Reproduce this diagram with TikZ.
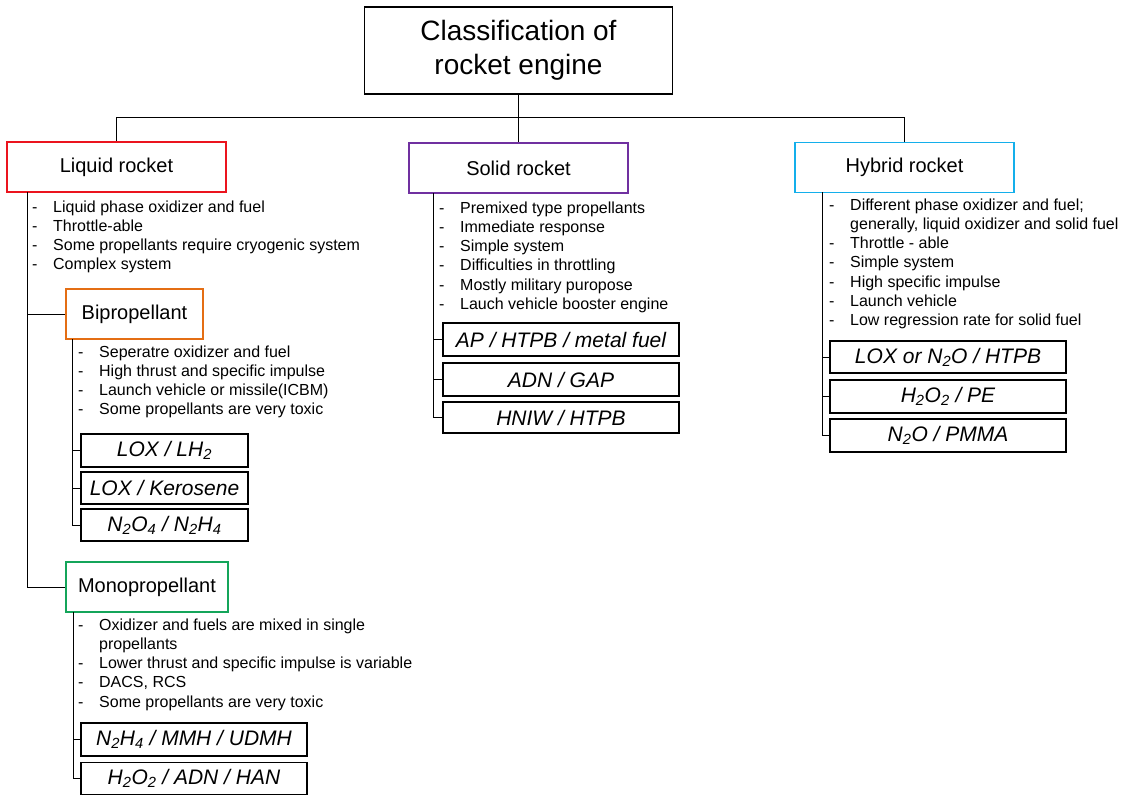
\documentclass[tikz,border=0pt]{standalone}
\usepackage{fontspec}
\setmainfont{Liberation Sans}
\usepackage{tikz}

\definecolor{liqred}{RGB}{235,20,30}
\definecolor{biorange}{RGB}{228,110,20}
\definecolor{monogreen}{RGB}{20,165,90}
\definecolor{solpurple}{RGB}{112,48,160}
\definecolor{hybcyan}{RGB}{20,175,235}

\newcommand{\dashitem}{\makebox[21pt][l]{-}}
\newcommand{\dashcont}{\hspace*{21pt}}

\tikzset{
    catbox/.style={draw, line width=1.7pt, fill=white, minimum width=219pt, minimum height=50pt,
        inner sep=0pt, font=\fontsize{20}{24}\selectfont},
    propbox/.style={draw, line width=1.4pt, fill=white, minimum height=32pt, inner sep=0pt,
        font=\fontsize{21}{24}\selectfont\itshape},
    notes/.style={anchor=north west, align=left, inner sep=0pt, font=\fontsize{16}{19.25}\selectfont},
    link/.style={line width=0.8pt}
}

\begin{document}
\begin{tikzpicture}[x=1pt, y=-1pt]
    \useasboundingbox (0,0) rectangle (1126,796);

    % Root and first level
    \node[draw, line width=1.4pt, minimum width=308pt, minimum height=87pt, align=center,
        font=\fontsize{28}{34}\selectfont] (root) at (518.5,50.5) {Classification of\\rocket engine};
    \node[catbox, draw=liqred] (liquid) at (116.5,167) {Liquid rocket};
    \node[catbox, draw=solpurple] (solid) at (518.5,168) {Solid rocket};
    \node[catbox, draw=hybcyan] (hybrid) at (904.5,167.5) {Hybrid rocket};

    \coordinate (bar) at (518.5,117);
    \draw[link] (root.south) -- (solid.north);
    \draw[link] (liquid.north) -- (liquid.north |- bar) -| (hybrid.north);

    % Liquid rocket
    \node[notes] (liqnotes) at (32,200.4) {\dashitem Liquid phase oxidizer and fuel\\
        \dashitem Throttle-able\\
        \dashitem Some propellants require cryogenic system\\
        \dashitem Complex system};
    \node[catbox, draw=biorange, minimum width=137pt] (bi) at (134.5,314) {Bipropellant};
    \node[catbox, draw=monogreen, minimum width=162pt] (mono) at (147,587) {Monopropellant};
    \coordinate (lq) at (27,192);
    \draw[link] (lq) |- (bi.west);
    \draw[link] (lq) |- (mono.west);

    % Bipropellant
    \node[notes] (binotes) at (78,345.4) {\dashitem Seperatre oxidizer and fuel\\
        \dashitem High thrust and specific impulse\\
        \dashitem Launch vehicle or missile(ICBM)\\
        \dashitem Some propellants are very toxic};
    \node[propbox, minimum width=167pt, minimum height=33pt] (bia) at (164.5,450.5) {LOX / LH\textsubscript{2}};
    \node[propbox, minimum width=167pt] (bib) at (164.5,488) {LOX / Kerosene};
    \node[propbox, minimum width=167pt] (bic) at (164.5,525) {N\textsubscript{2}O\textsubscript{4} / N\textsubscript{2}H\textsubscript{4}};
    \coordinate (bq) at (72,339);
    \foreach \p in {bia, bib, bic}
        \draw[link] (bq) |- (\p.west);

    % Monopropellant
    \node[notes] (mononotes) at (78,618.4) {\dashitem Oxidizer and fuels are mixed in single\\
        \dashcont propellants\\
        \dashitem Lower thrust and specific impulse is variable\\
        \dashitem DACS, RCS\\
        \dashitem Some propellants are very toxic};
    \node[propbox, minimum width=226pt, minimum height=33pt] (monoa) at (194,739.5) {N\textsubscript{2}H\textsubscript{4} / MMH / UDMH};
    \node[propbox, minimum width=226pt] (monob) at (194,778.5) {H\textsubscript{2}O\textsubscript{2} / ADN / HAN};
    \coordinate (mq) at (73,612);
    \foreach \p in {monoa, monob}
        \draw[link] (mq) |- (\p.west);

    % Solid rocket
    \node[notes] (solnotes) at (439,201.4) {\dashitem Premixed type propellants\\
        \dashitem Immediate response\\
        \dashitem Simple system\\
        \dashitem Difficulties in throttling\\
        \dashitem Mostly military puropose\\
        \dashitem Lauch vehicle booster engine};
    \node[propbox, minimum width=236pt, minimum height=33pt] (sola) at (561,339.5) {AP / HTPB / metal fuel};
    \node[propbox, minimum width=236pt, minimum height=33pt] (solb) at (561,379.5) {ADN / GAP};
    \node[propbox, minimum width=236pt, minimum height=31pt] (solc) at (561,417.5) {HNIW / HTPB};
    \coordinate (sq) at (433,193);
    \foreach \p in {sola, solb, solc}
        \draw[link] (sq) |- (\p.west);

    % Hybrid rocket
    \node[notes] (hybnotes) at (829,198.4) {\dashitem Different phase oxidizer and fuel;\\
        \dashcont generally, liquid oxidizer and solid fuel\\
        \dashitem Throttle - able\\
        \dashitem Simple system\\
        \dashitem High specific impulse\\
        \dashitem Launch vehicle\\
        \dashitem Low regression rate for solid fuel};
    \node[propbox, minimum width=236pt] (hyba) at (948,357) {LOX or N\textsubscript{2}O / HTPB};
    \node[propbox, minimum width=236pt, minimum height=33pt] (hybb) at (948,396.5) {H\textsubscript{2}O\textsubscript{2} / PE};
    \node[propbox, minimum width=236pt, minimum height=33pt] (hybc) at (948,435.5) {N\textsubscript{2}O / PMMA};
    \coordinate (hq) at (822,192);
    \foreach \p in {hyba, hybb, hybc}
        \draw[link] (hq) |- (\p.west);
\end{tikzpicture}
\end{document}
